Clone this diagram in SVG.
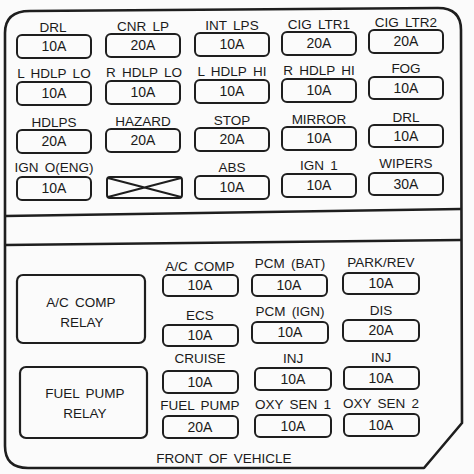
<svg xmlns="http://www.w3.org/2000/svg" width="474" height="474" viewBox="0 0 474 474">
<style>
.bg{fill:#fbfbfb}
.frame{fill:none;stroke:#1e1e1e;stroke-width:2.6;stroke-linejoin:round}
.fuse{fill:none;stroke:#1e1e1e;stroke-width:2}
.relay{fill:none;stroke:#1e1e1e;stroke-width:2.2}
text{font-family:"Liberation Sans",Arial,sans-serif;font-size:13.5px;fill:#1a1a1a;text-anchor:middle;word-spacing:2.5px}
.amp{font-size:14px}
</style>
<rect class="bg" x="0" y="0" width="474" height="474"/>
<g id="frame">
<path class="frame" d="M30,11 L438,8 Q461,8 461,30 L462,423 L424,468 L28,468 Q5,468 5,446 L5,33 Q5,11 30,11 Z"/>
<line class="frame" x1="5" y1="216" x2="461" y2="209"/>
<line class="frame" x1="5" y1="245" x2="461" y2="240"/>
</g>
<g id="connectors"/>
<!-- top section fuses -->
<g id="f-drl1"><text x="53" y="32">DRL</text><rect class="fuse" x="17" y="35" width="74" height="23" rx="5"/><text class="amp" x="54" y="51">10A</text></g>
<g id="f-cnrlp"><text x="143" y="31">CNR LP</text><rect class="fuse" x="106" y="34" width="74" height="23" rx="5"/><text class="amp" x="143" y="50">20A</text></g>
<g id="f-intlps"><text x="232" y="30">INT LPS</text><rect class="fuse" x="195" y="33" width="74" height="23" rx="5"/><text class="amp" x="232" y="49">10A</text></g>
<g id="f-cigltr1"><text x="319" y="29">CIG LTR1</text><rect class="fuse" x="282" y="32" width="74" height="23" rx="5"/><text class="amp" x="319" y="48">20A</text></g>
<g id="f-cigltr2"><text x="406" y="27">CIG LTR2</text><rect class="fuse" x="369" y="30" width="74" height="23" rx="5"/><text class="amp" x="406" y="46">20A</text></g>

<g id="f-lhdlplo"><text x="54" y="78">L HDLP LO</text><rect class="fuse" x="17" y="82" width="74" height="23" rx="5"/><text class="amp" x="54" y="98">10A</text></g>
<g id="f-rhdlplo"><text x="144" y="77">R HDLP LO</text><rect class="fuse" x="106" y="81" width="74" height="23" rx="5"/><text class="amp" x="143" y="97">10A</text></g>
<g id="f-lhdlphi"><text x="232" y="76">L HDLP HI</text><rect class="fuse" x="195" y="80" width="74" height="23" rx="5"/><text class="amp" x="232" y="96">10A</text></g>
<g id="f-rhdlphi"><text x="319" y="75">R HDLP HI</text><rect class="fuse" x="282" y="79" width="74" height="23" rx="5"/><text class="amp" x="319" y="95">10A</text></g>
<g id="f-fog"><text x="406" y="73">FOG</text><rect class="fuse" x="369" y="77" width="74" height="22" rx="5"/><text class="amp" x="406" y="93">10A</text></g>

<g id="f-hdlps"><text x="54" y="127">HDLPS</text><rect class="fuse" x="17" y="130" width="74" height="23" rx="5"/><text class="amp" x="54" y="146">20A</text></g>
<g id="f-hazard"><text x="143" y="126">HAZARD</text><rect class="fuse" x="106" y="129" width="74" height="23" rx="5"/><text class="amp" x="143" y="145">20A</text></g>
<g id="f-stop"><text x="232" y="125">STOP</text><rect class="fuse" x="195" y="128" width="74" height="23" rx="5"/><text class="amp" x="232" y="144">20A</text></g>
<g id="f-mirror"><text x="319" y="124">MIRROR</text><rect class="fuse" x="282" y="127" width="74" height="23" rx="5"/><text class="amp" x="319" y="143">10A</text></g>
<g id="f-drl2"><text x="406" y="122">DRL</text><rect class="fuse" x="369" y="125" width="74" height="22" rx="5"/><text class="amp" x="406" y="141">10A</text></g>

<g id="f-ign0"><text x="54" y="172">IGN O(ENG)</text><rect class="fuse" x="17" y="177" width="74" height="23" rx="5"/><text class="amp" x="54" y="193">10A</text></g>
<g id="f-blank"><rect class="fuse" x="107" y="177" width="75" height="21" rx="3"/><path class="fuse" d="M108,178 L181,197 M108,197 L181,178"/></g>
<g id="f-abs"><text x="232" y="172">ABS</text><rect class="fuse" x="195" y="176" width="74" height="23" rx="5"/><text class="amp" x="232" y="192">10A</text></g>
<g id="f-ign1"><text x="319" y="170">IGN 1</text><rect class="fuse" x="282" y="174" width="74" height="23" rx="5"/><text class="amp" x="319" y="190">10A</text></g>
<g id="f-wipers"><text x="406" y="168">WIPERS</text><rect class="fuse" x="369" y="173" width="74" height="22" rx="5"/><text class="amp" x="406" y="189">30A</text></g>

<!-- lower section -->
<g id="r-accomp"><rect class="relay" x="17" y="275" width="128" height="68" rx="6"/><text x="81" y="307">A/C COMP</text><text x="82" y="327">RELAY</text></g>
<g id="r-fuelpump"><rect class="relay" x="20" y="367" width="127" height="71" rx="6"/><text x="85" y="398">FUEL PUMP</text><text x="85" y="418">RELAY</text></g>

<g id="f-accomp"><text x="200" y="271">A/C COMP</text><rect class="fuse" x="163" y="275" width="75" height="21" rx="5"/><text class="amp" x="200" y="290">10A</text></g>
<g id="f-pcmbat"><text x="290" y="268">PCM (BAT)</text><rect class="fuse" x="252" y="275" width="75" height="21" rx="5"/><text class="amp" x="289" y="290">10A</text></g>
<g id="f-parkrev"><text x="381" y="267">PARK/REV</text><rect class="fuse" x="343" y="273" width="76" height="21" rx="5"/><text class="amp" x="381" y="288">10A</text></g>

<g id="f-ecs"><text x="200" y="320">ECS</text><rect class="fuse" x="163" y="325" width="75" height="21" rx="5"/><text class="amp" x="200" y="340">10A</text></g>
<g id="f-pcmign"><text x="290" y="316">PCM (IGN)</text><rect class="fuse" x="252" y="322" width="76" height="21" rx="5"/><text class="amp" x="290" y="337">10A</text></g>
<g id="f-dis"><text x="381" y="315">DIS</text><rect class="fuse" x="343" y="320" width="76" height="21" rx="5"/><text class="amp" x="381" y="335">20A</text></g>

<g id="f-cruise"><text x="200" y="363">CRUISE</text><rect class="fuse" x="163" y="371" width="75" height="22" rx="5"/><text class="amp" x="200" y="387">10A</text></g>
<g id="f-inj1"><text x="293" y="363">INJ</text><rect class="fuse" x="255" y="368" width="76" height="22" rx="5"/><text class="amp" x="293" y="384">10A</text></g>
<g id="f-inj2"><text x="381" y="362">INJ</text><rect class="fuse" x="344" y="367" width="75" height="22" rx="5"/><text class="amp" x="381" y="383">10A</text></g>

<g id="f-fuelpump"><text x="200" y="410">FUEL PUMP</text><rect class="fuse" x="163" y="416" width="75" height="22" rx="5"/><text class="amp" x="200" y="432">20A</text></g>
<g id="f-oxy1"><text x="293" y="409">OXY SEN 1</text><rect class="fuse" x="255" y="415" width="76" height="22" rx="5"/><text class="amp" x="293" y="431">10A</text></g>
<g id="f-oxy2"><text x="381" y="408">OXY SEN 2</text><rect class="fuse" x="344" y="414" width="75" height="22" rx="5"/><text class="amp" x="381" y="430">10A</text></g>

<g id="front"><text x="224" y="463">FRONT OF VEHICLE</text></g>
</svg>
